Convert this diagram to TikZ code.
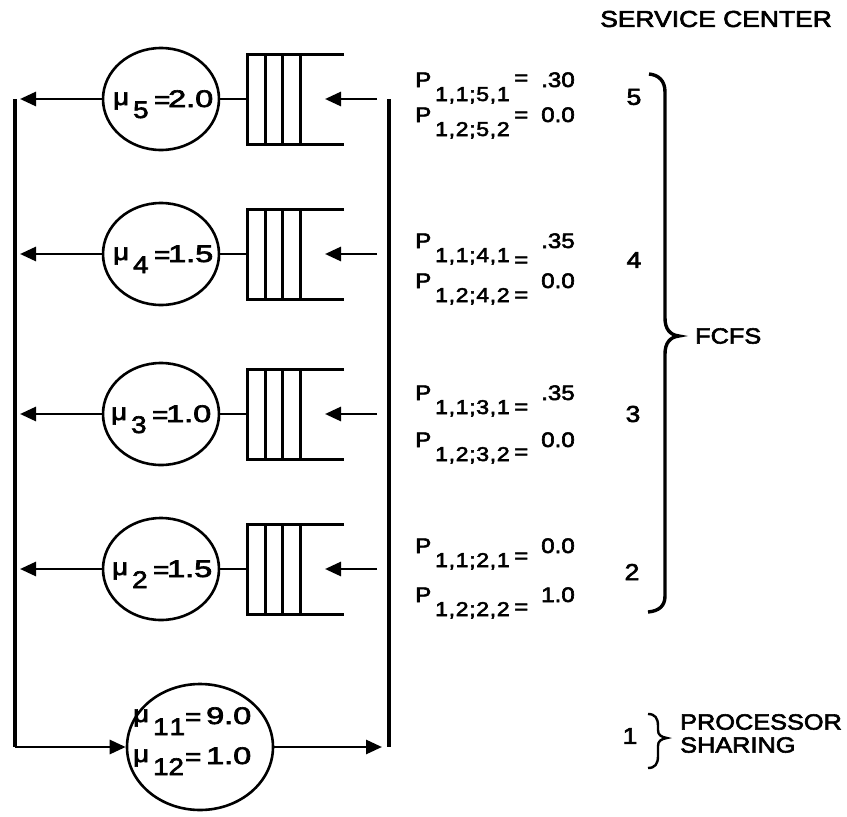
\documentclass[tikz,border=0pt]{standalone}
\usepackage{fontspec}
\usepackage{graphicx}
\setmainfont{Liberation Sans}[FakeBold=2.6]
\newfontfamily\subf{Liberation Sans}[LetterSpace=3,FakeBold=2.6]
\usetikzlibrary{shapes.geometric,arrows.meta}
\newcommand{\sx}[1]{\scalebox{1.15}[1]{#1}}
\newcommand{\sxx}[1]{\scalebox{1.35}[1]{#1}}
% P line: #1 subscript, #2 raise of "=", #3 value
\newcommand{\Pline}[3]{\rlap{\sx{P}}\hspace{20pt}\rlap{\raisebox{-14pt}{\sx{\fontsize{20}{22}\subf #1}}}\hspace{79pt}\rlap{\raisebox{#2}{\sx{=}}}\hspace{27pt}\sx{#3}}
% mu line: #1 sub, #2 value, #3 #4 #5 horizontal offsets
\newcommand{\Mline}[5]{\rlap{\raisebox{2pt}{\sx{μ}}}\hspace{#3}\rlap{\raisebox{-11pt}{\sx{#1}}}\hspace{#4}\rlap{\raisebox{-1pt}{\sx{=}}}\hspace{#5}\sxx{#2}}
\begin{document}
\begin{tikzpicture}[x=1pt,y=-1pt,
  srv/.style={draw, ellipse, inner sep=0pt, line width=2.6pt},
  conn/.style={line width=2.8pt},
  arr/.style={line width=2.8pt, -{Triangle[length=16pt,width=14pt]}},
  vline/.style={line width=3.4pt},
  qline/.style={line width=3pt},
  bracestyle/.style={line width=3.4pt},
  plab/.style={anchor=base west, inner sep=0pt, font=\fontsize{21}{25}\selectfont},
  mlab/.style={anchor=base west, inner sep=0pt, font=\fontsize{24}{28}\selectfont},
  word/.style={anchor=west, inner sep=0pt, font=\fontsize{22}{26}\selectfont},
  num/.style={inner sep=0pt, font=\fontsize{23}{26}\selectfont},
]
\useasboundingbox (0,0) rectangle (847,817);

% rows of FCFS centers
\foreach \n/\y in {5/99,4/254,3/414,2/569}{
  \node[srv, minimum width=116pt, minimum height=102pt] (s\n) at (161,\y) {};
  \coordinate (q\n) at (247,\y);
  \coordinate (o\n) at (20,\y);
  \coordinate (i\n) at (377,\y);
  \coordinate (t\n) at (325,\y);
  \draw[qline] (344,\y-45) -- (247,\y-45) -- (247,\y+45) -- (344,\y+45);
  \draw[qline] (265,\y-45) -- (265,\y+45);
  \draw[qline] (282,\y-45) -- (282,\y+45);
  \draw[qline] (300,\y-45) -- (300,\y+45);
  \draw[conn] (s\n.east) -- (q\n);
  \draw[arr] (s\n.west) -- (o\n);
  \draw[arr] (i\n) -- (t\n);
}

\node[mlab] (m5) at (113,107) {\Mline{5}{2.0}{20pt}{21pt}{14pt}};
\node[mlab] (m4) at (113,262) {\Mline{4}{1.5}{20pt}{21pt}{14pt}};
\node[mlab] (m3) at (111,422) {\Mline{3}{1.0}{20pt}{21pt}{14pt}};
\node[mlab] (m2) at (112,577) {\Mline{2}{1.5}{20pt}{21pt}{14pt}};

% processor sharing center
\node[srv, minimum width=146pt, minimum height=126pt] (s1) at (200,747) {};
\node[mlab] (m11) at (133,724) {\Mline{1\kern1pt 1}{9.0}{20pt}{32pt}{21pt}};
\node[mlab] (m12) at (133,764) {\Mline{12}{1.0}{20pt}{32pt}{21pt}};

% loop lines
\coordinate (Lt) at (15,99);
\coordinate (Lb) at (15,747);
\coordinate (Rt) at (389,99);
\coordinate (Rb) at (389,747);
\coordinate (e1) at (382,747);
\draw[vline] (Lt) -- (Lb);
\draw[vline] (Rt) -- (Rb);
\draw[arr] (Lb) -- (s1.west);
\draw[arr] (s1.east) -- (e1);

% routing probabilities
\node[plab] (p51) at (415,87)  {\Pline{1,1;5,1}{2pt}{.30}};
\node[plab] (p52) at (415,122) {\Pline{1,2;5,2}{0pt}{0.0}};
\node[plab] (p41) at (415,248) {\Pline{1,1;4,1}{-19pt}{.35}};
\node[plab] (p42) at (415,288) {\Pline{1,2;4,2}{-14pt}{0.0}};
\node[plab] (p31) at (415,400) {\Pline{1,1;3,1}{-14pt}{.35}};
\node[plab] (p32) at (415,447) {\Pline{1,2;3,2}{-12pt}{0.0}};
\node[plab] (p21) at (415,553) {\Pline{1,1;2,1}{-10pt}{0.0}};
\node[plab] (p22) at (415,602) {\Pline{1,2;2,2}{-12pt}{1.0}};

% service center numbers
\node[word, font=\fontsize{23}{26}\selectfont] (hdr) at (600,19) {\sx{SERVICE CENTER}};
\node[num] (c5) at (634,97) {\sx{5}};
\node[num] (c4) at (634,260) {\sx{4}};
\node[num] (c3) at (633,414) {\sx{3}};
\node[num] (c2) at (632,572) {\sx{2}};
\node[num] (c1) at (630,736) {\sx{1}};

% braces
\draw[bracestyle] (649,74) .. controls (659,75) and (665,81) .. (665,92) -- (665,318)
  .. controls (665,329) and (670,335) .. (679,336)
  .. controls (670,337) and (665,343) .. (665,354) -- (665,596)
  .. controls (665,606) and (659,611) .. (648,612);
\draw[line width=2.4pt] (648,714) .. controls (655,714) and (658,718) .. (658,726) -- (658,730)
  .. controls (658,735) and (661,737) .. (667,738)
  .. controls (661,739) and (658,741) .. (658,746) -- (658,756)
  .. controls (658,764) and (655,768) .. (648,768);

\node[word] (fcfs) at (695,336) {\sx{FCFS}};
\node[word] (ps1) at (680,722) {\sx{PROCESSOR}};
\node[word] (ps2) at (680,745) {\sx{SHARING}};
\end{tikzpicture}
\end{document}
